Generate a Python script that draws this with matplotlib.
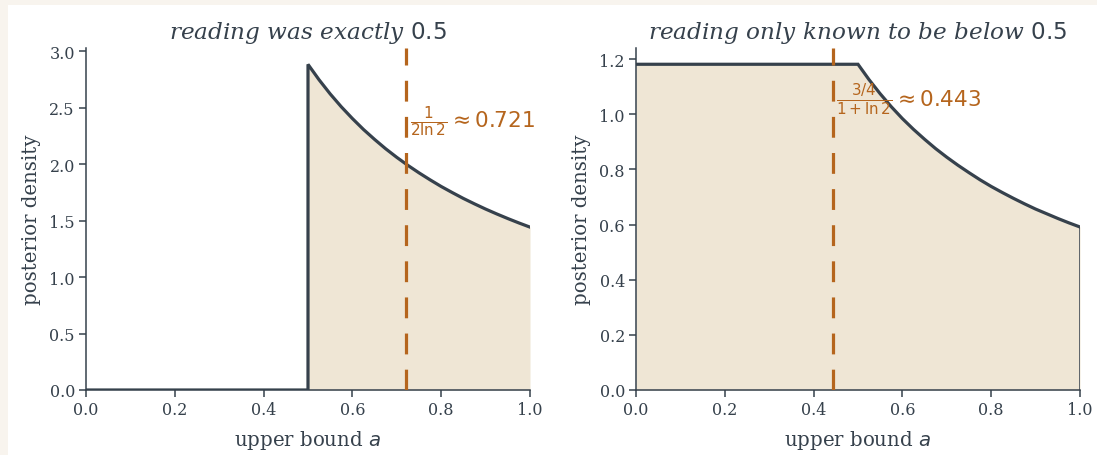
import matplotlib
matplotlib.use("Agg")
import matplotlib.pyplot as plt
from matplotlib.patches import Rectangle

# ---- data ----
a_left = [0.0, 0.5, 0.5, 0.525, 0.55, 0.575, 0.6, 0.625, 0.65, 0.675, 0.7, 0.725,
          0.75, 0.775, 0.8, 0.825, 0.85, 0.875, 0.9, 0.925, 0.95, 0.975, 1.0]
dens_left = [0.0, 0.0, 2.885, 2.748, 2.623, 2.509, 2.405, 2.308, 2.220, 2.137, 2.061, 1.990,
             1.924, 1.862, 1.803, 1.749, 1.697, 1.649, 1.603, 1.560, 1.519, 1.480, 1.443]
a_right = [0.0, 0.5, 0.525, 0.55, 0.575, 0.6, 0.625, 0.65, 0.675, 0.7, 0.725,
           0.75, 0.775, 0.8, 0.825, 0.85, 0.875, 0.9, 0.925, 0.95, 0.975, 1.0]
dens_right = [1.181, 1.181, 1.125, 1.074, 1.027, 0.984, 0.945, 0.909, 0.875, 0.844, 0.815,
              0.788, 0.762, 0.738, 0.716, 0.695, 0.675, 0.656, 0.639, 0.622, 0.606, 0.591]
mark_left = 0.721
mark_right = 0.443
titles = [r"reading was exactly $0.5$", r"reading only known to be below $0.5$"]
notes = [r"$\frac{1}{2\ln 2}\approx 0.721$", r"$\frac{3/4}{1+\ln 2}\approx 0.443$"]
xticks = [0.0, 0.2, 0.4, 0.6, 0.8, 1.0]
yticks_left = [0.0, 0.5, 1.0, 1.5, 2.0, 2.5, 3.0]
yticks_right = [0.0, 0.2, 0.4, 0.6, 0.8, 1.0, 1.2]

# ---- style ----
INK = "#36414c"
FILL = "#efe6d5"
ORANGE = "#b5651d"
CREAM = "#f8f4ee"
plt.rcParams["font.family"] = ["DejaVu Serif"]
plt.rcParams["mathtext.fontset"] = "dejavusans"
plt.rcParams["lines.scale_dashes"] = False

fig = plt.figure(figsize=(10.97, 4.56), dpi=100, facecolor=CREAM)
fig.patches.append(Rectangle((8 / 1097, 0), 1 - 8 / 1097, 1 - 6 / 456,
                             transform=fig.transFigure, facecolor="white",
                             edgecolor="none", zorder=-10))

W, H = 1097, 456
def axes_px(x0, x1, ytop, ybot):
    return fig.add_axes([x0 / W, 1 - ybot / H, (x1 - x0) / W, (ybot - ytop) / H])

ax1 = axes_px(86, 530, 49, 391)
ax2 = axes_px(636, 1080, 49, 391)

def style(ax, yticks, ylim):
    ax.set_facecolor("none")
    for s in ["top", "right"]:
        ax.spines[s].set_visible(False)
    for s in ["left", "bottom"]:
        ax.spines[s].set_color(INK)
        ax.spines[s].set_linewidth(1.1)
    ax.set_xlim(0, 1)
    ax.set_ylim(*ylim)
    ax.set_xticks(xticks)
    ax.set_yticks(yticks)
    ax.tick_params(colors=INK, labelcolor=INK, labelsize=11.5, width=1.1, length=5, pad=3)
    ax.set_xlabel(r"upper bound $a$", fontsize=14.2, color=INK, labelpad=7)
    ax.set_ylabel("posterior density", fontsize=14.2, color=INK, labelpad=6)

# left panel
style(ax1, yticks_left, (0, 3.03))
ax1.fill_between(a_left, 0, dens_left, color=FILL, lw=0, zorder=1)
ax1.plot(a_left, dens_left, color=INK, lw=2.3, zorder=3, solid_joinstyle="miter")
ax1.axvline(mark_left, color=ORANGE, lw=2.3, dashes=(15, 11), zorder=4)
ax1.text(mark_left + 0.008, 2.39, notes[0], color=ORANGE, fontsize=15.6, va="center", ha="left")
ax1.set_title(titles[0], fontsize=16.7, color=INK, style="italic", pad=7)

# right panel
style(ax2, yticks_right, (0, 1.24))
ax2.fill_between(a_right, 0, dens_right, color=FILL, lw=0, zorder=1)
ax2.plot(a_right, dens_right, color=INK, lw=2.3, zorder=3, solid_joinstyle="miter")
ax2.plot([a_right[-1], a_right[-1]], [0, dens_right[-1]], color=INK, lw=1.1, zorder=3)
ax2.axvline(mark_right, color=ORANGE, lw=2.3, dashes=(15, 11), zorder=4)
ax2.text(mark_right + 0.008, 1.055, notes[1], color=ORANGE, fontsize=15.6, va="center", ha="left")
ax2.set_title(titles[1], fontsize=16.7, color=INK, style="italic", pad=7)

fig.savefig("out.png", dpi=100, facecolor=CREAM)
